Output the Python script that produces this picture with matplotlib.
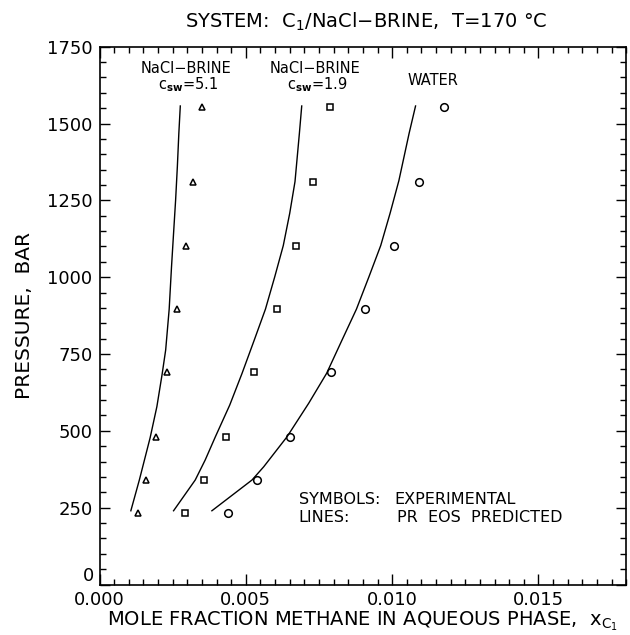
import matplotlib
matplotlib.use("Agg")
import matplotlib.pyplot as plt
from matplotlib.ticker import MultipleLocator, FormatStrFormatter, FuncFormatter

plt.rcParams['font.family'] = ['DejaVu Sans']

# experimental points (pressure in bar, mole fraction methane)
p_exp = [234, 340, 480, 690, 897, 1103, 1310, 1555]
x_brine51 = [0.00131, 0.00159, 0.00193, 0.00232, 0.00266, 0.00297, 0.00321, 0.00350]
x_brine19 = [0.00292, 0.00357, 0.00432, 0.00527, 0.00608, 0.00673, 0.00729, 0.00786]
x_water = [0.00438, 0.00538, 0.00651, 0.00790, 0.00907, 0.01006, 0.01092, 0.01177]

# PR EOS predicted curves
p_pred51 = [240, 340, 478, 579, 685, 763, 896, 1034, 1143, 1251, 1361, 1468, 1557]
xp_brine51 = [0.00107, 0.00136, 0.00173, 0.00196, 0.00214, 0.00226, 0.00238,
              0.00246, 0.00253, 0.00260, 0.00266, 0.00271, 0.00276]
p_pred19 = [240, 340, 405, 481, 584, 687, 796, 896, 1002, 1103, 1208, 1311, 1468, 1557]
xp_brine19 = [0.00253, 0.00327, 0.00361, 0.00396, 0.00445, 0.00487, 0.00529,
              0.00567, 0.00599, 0.00628, 0.00650, 0.00668, 0.00683, 0.00691]
p_predw = [240, 340, 383, 481, 590, 687, 796, 896, 1002, 1103, 1208, 1314, 1468, 1557]
xp_water = [0.00384, 0.00521, 0.00561, 0.00641, 0.00715, 0.00776, 0.00829,
            0.00878, 0.00921, 0.00961, 0.00993, 0.01023, 0.01058, 0.01080]

fig = plt.figure(figsize=(6.3, 6.35), dpi=100)
ax = fig.add_axes([0.158, 0.0795, 0.836, 0.847])

ax.plot(xp_brine51, p_pred51, color="black", lw=1.0)
ax.plot(xp_brine19, p_pred19, color="black", lw=1.0)
ax.plot(xp_water, p_predw, color="black", lw=1.0)

ax.plot(x_brine51, p_exp, ls="none", marker="^", ms=5, mfc="none", mec="black", mew=1.1)
ax.plot(x_brine19, p_exp, ls="none", marker="s", ms=4.5, mfc="none", mec="black", mew=1.1)
ax.plot(x_water, p_exp, ls="none", marker="o", ms=5.5, mfc="none", mec="black", mew=1.1)

ax.set_xlim(0, 0.018)
ax.set_ylim(0, 1750)
ax.xaxis.set_major_locator(MultipleLocator(0.005))
ax.xaxis.set_minor_locator(MultipleLocator(0.0005))
ax.xaxis.set_major_formatter(FormatStrFormatter('%.3f'))
ax.yaxis.set_major_locator(MultipleLocator(250))
ax.yaxis.set_minor_locator(MultipleLocator(50))
# "0" of the pressure axis is drawn separately, just above the x tick labels
ax.yaxis.set_major_formatter(FuncFormatter(lambda v, pos: "" if v == 0 else f"{v:.0f}"))
ax.tick_params(which="both", direction="in", top=True, right=True, labelsize=13, width=1)
ax.tick_params(axis="x", which="major", length=8, pad=5)
ax.tick_params(axis="y", which="major", length=7, pad=5)
ax.tick_params(which="minor", length=4)
for s in ax.spines.values():
    s.set_linewidth(1.2)
ax.annotate("0", xy=(0, 0), xytext=(-4, 0), textcoords="offset points",
            ha="right", va="bottom", fontsize=13)

ax.set_xlabel(r"MOLE FRACTION METHANE IN AQUEOUS PHASE,  x$_{\mathrm{C_1}}$", fontsize=14, labelpad=0)
ax.set_ylabel("PRESSURE,  BAR", fontsize=14.5, labelpad=9)
fig.text(0.582, 0.966, "SYSTEM:  C$_1$/NaCl\u2212BRINE,  T=170 °C", ha="center", va="center", fontsize=14)

ax.text(0.00295, 1680, "NaCl\u2212BRINE", ha="center", va="center", fontsize=10.5)
ax.text(0.00303, 1628, r"c$_{\mathbf{sw}}$=5.1", ha="center", va="center", fontsize=10.5)
ax.text(0.00735, 1680, "NaCl\u2212BRINE", ha="center", va="center", fontsize=10.5)
ax.text(0.00745, 1628, r"c$_{\mathbf{sw}}$=1.9", ha="center", va="center", fontsize=10.5)
ax.text(0.01138, 1640, "WATER", ha="center", va="center", fontsize=10.5)

ax.text(0.00681, 275, "SYMBOLS:", ha="left", va="center", fontsize=11.5)
ax.text(0.01006, 275, "EXPERIMENTAL", ha="left", va="center", fontsize=11.5)
ax.text(0.00681, 217, "LINES:", ha="left", va="center", fontsize=11.5)
ax.text(0.01018, 217, "PR  EOS  PREDICTED", ha="left", va="center", fontsize=11.5)

fig.savefig("out.png", dpi=100)
